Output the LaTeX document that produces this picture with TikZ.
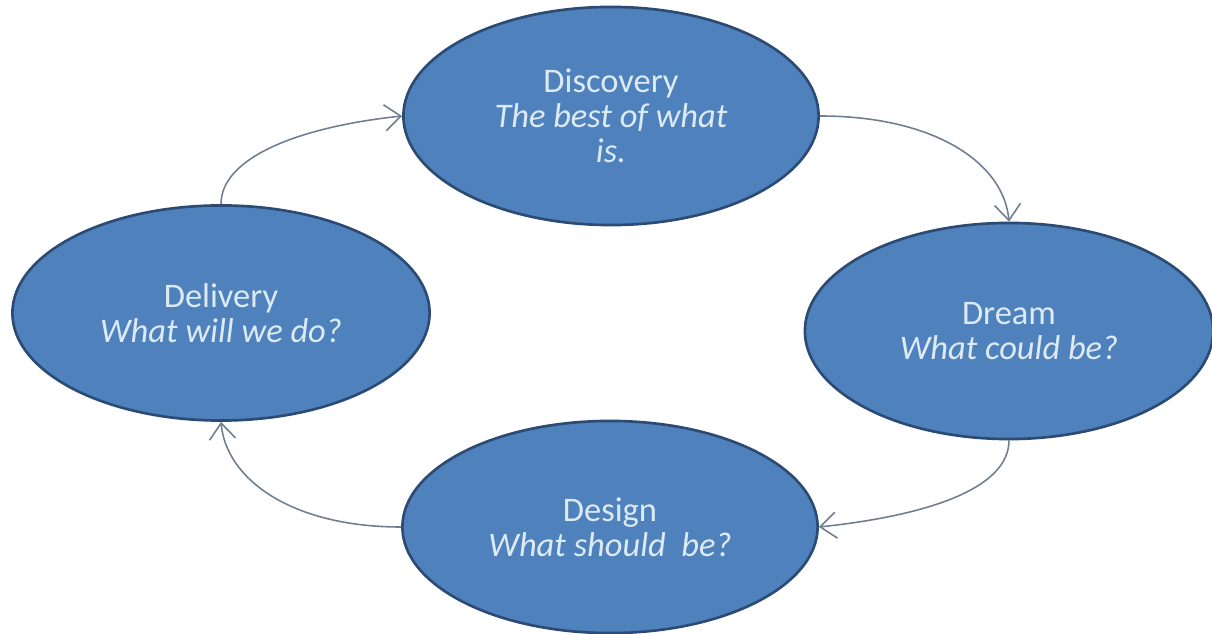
\documentclass[tikz,border=0pt]{standalone}
\usepackage{fontspec}
\setmainfont{Carlito}
\usepackage{tikz}
\usetikzlibrary{shapes.geometric, arrows.meta}
\definecolor{phasefill}{HTML}{4F81BD}
\definecolor{phaseline}{HTML}{2B4A74}
\definecolor{phasetext}{HTML}{DCEAF4}
\definecolor{cycleline}{HTML}{6F7F8F}
\tikzstyle{phase} = [ellipse, draw = phaseline, fill = phasefill, line width = 0.75pt, inner sep = 0pt, align = center, text = phasetext, font = \fontsize{9.8}{10}\selectfont]
\tikzstyle{cycle} = [-{Straight Barb[length = 1.6mm, width = 2.6mm]}, draw = cycleline, line width = 0.45pt]

\begin{document}
\begin{tikzpicture}[x = 0.01cm, y = -0.01cm]
        \useasboundingbox (0, 0) rectangle (1212, 634);
        \node (Discovery) at (611, 116) [phase, minimum width = 4.15cm, minimum height = 2.18cm] {Discovery\\ \textit{The best of what}\\ \textit{is.}};
        \node (Dream) at (1009, 331) [phase, minimum width = 4.08cm, minimum height = 2.16cm] {Dream\\ \textit{What could be?}};
        \node (Design) at (610, 527) [phase, minimum width = 4.15cm, minimum height = 2.12cm] {Design\\ \textit{What should\ \ be?}};
        \node (Delivery) at (221, 313) [phase, minimum width = 4.17cm, minimum height = 2.15cm] {Delivery\\ \textit{What will we do?}};
        \draw [cycle] (Delivery.north) to[out = 90, in = 186, out looseness = 0.6, in looseness = 1.3] (Discovery.west);
        \draw [cycle] (Discovery.east) to[out = 0, in = 95, out looseness = 1.35, in looseness = 0.7] (Dream.north);
        \draw [cycle] (Dream.south) to[out = -90, in = 6, out looseness = 0.6, in looseness = 1.3] (Design.east);
        \draw [cycle] (Design.west) to[out = 180, in = -85, out looseness = 1.35, in looseness = 0.7] (Delivery.south);
    \end{tikzpicture}
\end{document}
